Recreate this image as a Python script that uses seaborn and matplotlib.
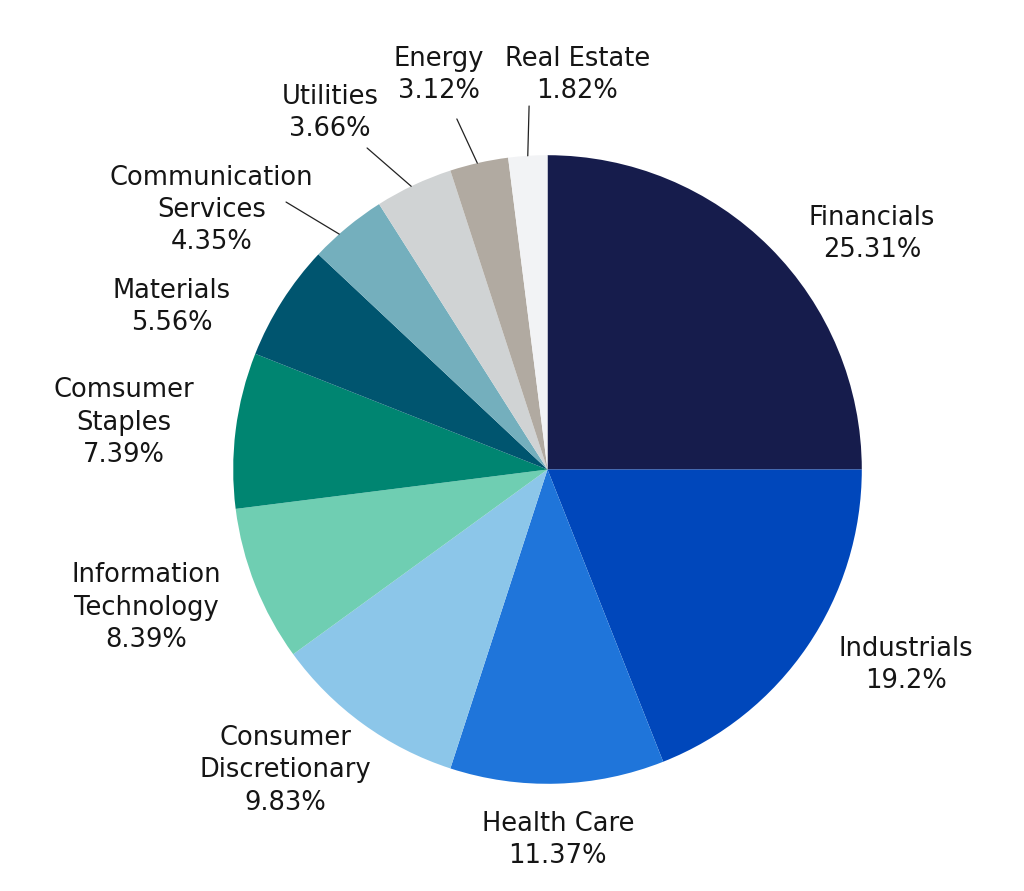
import matplotlib
matplotlib.use('Agg')
import matplotlib.pyplot as plt
import seaborn as sns
import numpy as np

# Dữ liệu
sectors = ['Financials', 'Industrials', 'Health Care', 'Consumer\nDiscretionary',
           'Information\nTechnology', 'Comsumer\nStaples', 'Materials',
           'Communication\nServices', 'Utilities', 'Energy', 'Real Estate']
# phần trăm ghi trên nhãn
label_pct = ['25.31', '19.2', '11.37', '9.83', '8.39', '7.39', '5.56', '4.35', '3.66', '3.12', '1.82']
# kích thước lát như được vẽ trong hình (làm tròn)
slice_size = [25, 19, 11, 10, 8, 8, 6, 4, 4, 3, 2]
colors = ['#161c4c', '#0047bb', '#1f75da', '#8cc6e9', '#6fceb2', '#008571',
          '#00556f', '#74afbd', '#d0d3d4', '#b1aaa1', '#f2f3f5']

# Vị trí nhãn: lệch góc so với giữa lát, khoảng cách theo bán kính
label_shift = [-9.0, 5.6, -0.2, -5.1, -2.6, 0.9, 9.0, 12.7, 6.2, 2.8, -7.9]
label_dist = [1.276, 1.299, 1.179, 1.270, 1.351, 1.356, 1.302, 1.350, 1.329, 1.302, 1.259]
# Đường dẫn cho các lát nhỏ: (index, lệch góc đầu, lệch góc cuối, bán kính cuối)
leaders = [(7, 1.9, 4.75, 1.19), (8, 0.5, 4.1, 1.173), (9, 0.3, 1.9, 1.152), (10, 0.0, -0.7, 1.158)]

sns.set_theme(style='white')
plt.rcParams['font.family'] = ['DejaVu Sans']

W, H, DPI = 1024, 891, 100
cx, cy, R = 547.5, 469.5, 314.3

fig = plt.figure(figsize=(W / DPI, H / DPI), dpi=DPI)
ax = fig.add_axes([0, 0, 1, 1])

wedges, _ = ax.pie(slice_size, colors=colors, startangle=90, counterclock=False,
                   radius=1, wedgeprops=dict(linewidth=0))

ax.set_xlim(-cx / R, (W - cx) / R)
ax.set_ylim(-(H - cy) / R, cy / R)
ax.axis('off')

for i, w in enumerate(wedges):
    mid = (w.theta1 + w.theta2) / 2
    a = np.deg2rad(mid + label_shift[i])
    d = label_dist[i]
    ax.text(d * np.cos(a), d * np.sin(a), f'{sectors[i]}\n{label_pct[i]}%',
            ha='center', va='center', multialignment='center',
            fontsize=18.5, color='#151515', linespacing=1.32)

for i, s0, s1, rr in leaders:
    w = wedges[i]
    mid = (w.theta1 + w.theta2) / 2
    a0 = np.deg2rad(mid + s0)
    a1 = np.deg2rad(mid + s1)
    ax.plot([np.cos(a0), rr * np.cos(a1)], [np.sin(a0), rr * np.sin(a1)],
            color='#222222', linewidth=0.9)

fig.savefig('out.png', dpi=DPI)
